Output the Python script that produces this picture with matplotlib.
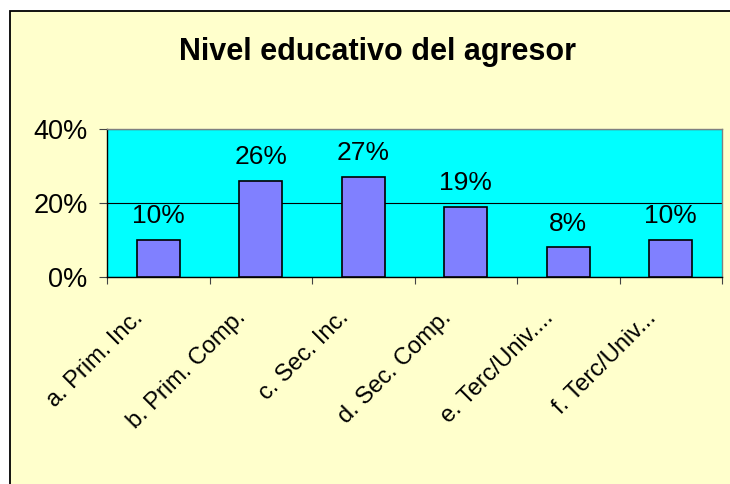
import numpy as np
import matplotlib.pyplot as plt
from matplotlib.patches import Rectangle

categories = ['a. Prim. Inc.', 'b. Prim. Comp.', 'c. Sec. Inc.',
              'd. Sec. Comp.', 'e. Terc/Univ....', 'f. Terc/Univ...']
values = [10, 26, 27, 19, 8, 10]
yticks = [0, 20, 40]

plt.rcParams['font.family'] = ['Liberation Sans', 'DejaVu Sans']

fig = plt.figure(figsize=(7.3, 4.84), dpi=100)
fig.patch.set_facecolor('white')

# yellow chart area with black border (top and left visible)
fig.patches.append(Rectangle((10 / 730, -0.05), 1.1, 1.05 - 11 / 484,
                             transform=fig.transFigure, facecolor='#FFFFCC',
                             edgecolor='black', linewidth=1.3, zorder=-5))

ax = fig.add_axes([107 / 730, 1 - 277 / 484, 615 / 730, 148 / 484])
ax.set_facecolor('#00FFFF')

x = np.arange(len(categories))
ax.bar(x, values, width=0.42, color='#8080FF', edgecolor='black',
       linewidth=1.2, zorder=3)

for xi, v in zip(x, values):
    ax.annotate(f'{v}%', (xi, v), xytext=(0, 12), textcoords='offset points',
                ha='center', va='baseline', fontsize=19)

ax.set_xlim(-0.5, len(categories) - 0.5)
ax.set_ylim(0, 40)
ax.set_yticks(yticks)
ax.set_yticklabels([f'{t}%' for t in yticks], fontsize=19.5)
ax.yaxis.grid(True, color='black', linewidth=0.8, zorder=1)
ax.set_axisbelow(True)

# category separators as ticks
ax.set_xticks(np.arange(len(categories) + 1) - 0.5)
ax.set_xticklabels([])
ax.tick_params(axis='x', length=5, width=0.8, color='#444444')
ax.tick_params(axis='y', length=5.5, width=0.8, color='#444444', pad=8.5)

for xi, lab in zip(x, categories):
    ax.annotate(lab, (xi, 0), xytext=(-13, -27), textcoords='offset points',
                rotation=45, rotation_mode='anchor', ha='right', va='center',
                fontsize=17)

ax.spines['top'].set_color('#808080')
ax.spines['right'].set_color('#808080')
ax.spines['left'].set_color('black')
ax.spines['bottom'].set_color('black')
for s in ax.spines.values():
    s.set_linewidth(1.0)

fig.text(377 / 730, 1 - 60 / 484, 'Nivel educativo del agresor',
         ha='center', va='baseline', fontsize=22, fontweight='bold')

fig.savefig('out.png', dpi=100, facecolor=fig.get_facecolor())
